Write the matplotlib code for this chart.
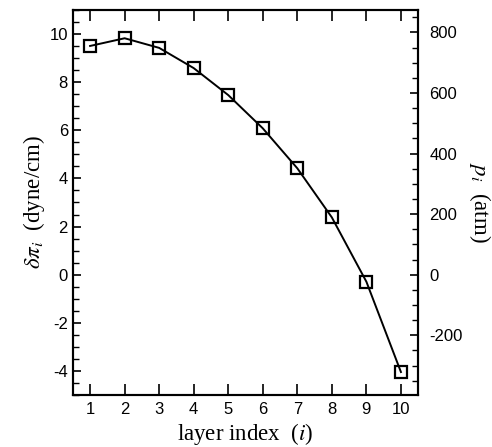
import matplotlib
matplotlib.use("Agg")
import matplotlib.pyplot as plt
from matplotlib.ticker import MultipleLocator

# data
layer = [1, 2, 3, 4, 5, 6, 7, 8, 9, 10]
dpi_vals = [9.5, 9.82, 9.42, 8.58, 7.46, 6.08, 4.42, 2.38, -0.29, -4.04]
atm_per_unit = 79.5   # right axis scale: atm per dyne/cm

plt.rcParams['axes.unicode_minus'] = False
plt.rcParams['mathtext.fontset'] = 'stix'

fig = plt.figure(figsize=(4.92, 4.47), dpi=100)
ax = fig.add_axes([0.148, 0.116, 0.702, 0.862])

ax.plot(layer, dpi_vals, color='black', lw=1.4, marker='s', ms=8,
        mfc='none', mec='black', mew=1.6)

ax.set_xlim(0.5, 10.5)
ax.set_ylim(-5, 11)
ax.xaxis.set_major_locator(MultipleLocator(1))
ax.yaxis.set_major_locator(MultipleLocator(2))
ax.yaxis.set_minor_locator(MultipleLocator(0.5))
ax.tick_params(axis='x', which='both', direction='in', top=True, bottom=True,
               length=8, width=1.2, labelsize=12, pad=5)
ax.tick_params(axis='y', which='major', direction='in', left=True, right=False,
               length=6, width=1.2, labelsize=12)
ax.tick_params(axis='y', which='minor', direction='in', left=True, right=False,
               length=4, width=1.0)
for lab in ax.get_xticklabels() + ax.get_yticklabels():
    lab.set_fontfamily('Liberation Sans')
for s in ax.spines.values():
    s.set_linewidth(1.5)

ax.set_xlabel('layer index  ($i$)', family='Liberation Serif', fontsize=16.5, labelpad=3)
ax.set_ylabel(r'$\delta\pi_i$  (dyne/cm)', family='Liberation Serif', fontsize=16.5, labelpad=2)

ax2 = ax.twinx()
ax2.set_ylim(-5 * atm_per_unit, 11 * atm_per_unit)
ax2.yaxis.set_major_locator(MultipleLocator(200))
ax2.yaxis.set_minor_locator(MultipleLocator(50))
ax2.tick_params(axis='y', which='major', direction='in', length=6, width=1.2,
                labelsize=12, pad=8)
ax2.tick_params(axis='y', which='minor', direction='in', length=4, width=1.0)
for lab in ax2.get_yticklabels():
    lab.set_fontfamily('Liberation Sans')
for s in ax2.spines.values():
    s.set_linewidth(1.5)
ax2.set_ylabel(r'$p_i$  (atm)', family='Liberation Serif', fontsize=16.5,
               rotation=-90, labelpad=22)

fig.savefig('out.png', dpi=100)
